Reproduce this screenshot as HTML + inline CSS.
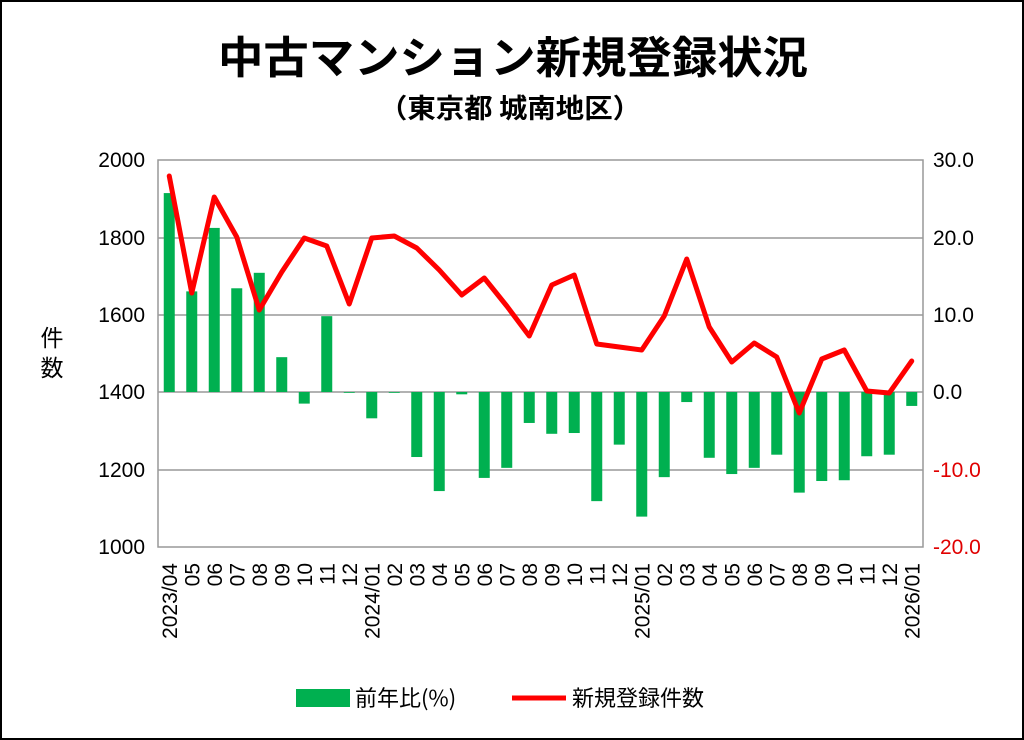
<!DOCTYPE html>
<html><head><meta charset="utf-8"><style>
html,body{margin:0;padding:0;background:#fff}
svg{display:block}
text{font-family:"Liberation Sans","Noto Sans CJK JP",sans-serif}
</style></head><body>
<svg width="1024" height="740" viewBox="0 0 1024 740" xmlns="http://www.w3.org/2000/svg">
<rect x="1" y="1" width="1022" height="738" fill="#fff" stroke="#000" stroke-width="2"/>
<text x="513" y="73" text-anchor="middle" font-size="44" font-weight="bold" textLength="590" lengthAdjust="spacingAndGlyphs" style="font-family:'Noto Sans CJK JP',sans-serif">中古マンション新規登録状況</text>
<text x="510" y="118" text-anchor="middle" font-size="27" font-weight="bold" textLength="262" lengthAdjust="spacingAndGlyphs" style="font-family:'Noto Sans CJK JP',sans-serif">（東京都 城南地区）</text>
<g stroke="#999" stroke-width="1.5">
<line x1="158" y1="238" x2="923" y2="238"/>
<line x1="158" y1="315" x2="923" y2="315"/>
<line x1="158" y1="392" x2="923" y2="392"/>
<line x1="158" y1="470" x2="923" y2="470"/>
<rect x="158" y="160" width="765" height="387" fill="none"/>
</g>
<g font-size="21" text-anchor="end" fill="#000">
<text x="145" y="167">2000</text><text x="145" y="245">1800</text><text x="145" y="322">1600</text><text x="145" y="399">1400</text><text x="145" y="477">1200</text><text x="145" y="554">1000</text>
</g>
<g font-size="21" text-anchor="start">
<text x="933" y="167">30.0</text><text x="933" y="245">20.0</text><text x="933" y="322">10.0</text><text x="933" y="399">0.0</text><text x="933" y="477" fill="#e00000">-10.0</text><text x="933" y="554" fill="#e00000">-20.0</text>
</g>
<text x="52" y="346" font-size="23" text-anchor="middle" style="font-family:'Noto Sans CJK JP',sans-serif">件</text>
<text x="52" y="376" font-size="23" text-anchor="middle" style="font-family:'Noto Sans CJK JP',sans-serif">数</text>
<g id="bars" fill="#00b050"></g>
<polyline id="line" fill="none" stroke="#f00" stroke-width="5" stroke-linejoin="round" stroke-linecap="round" points=""/>
<g id="xl" font-size="21"></g>
<rect x="296" y="689" width="54" height="18" fill="#00b050"/>
<text x="355" y="706" font-size="22" style="font-family:'Noto Sans CJK JP',sans-serif">前年比(%)</text>
<line x1="512" y1="698" x2="566" y2="698" stroke="#f00" stroke-width="5"/>
<text x="572" y="706" font-size="22" style="font-family:'Noto Sans CJK JP',sans-serif">新規登録件数</text>
</svg>
<script>
const pct=[25.7,13,21.2,13.4,15.4,4.5,-1.5,9.8,-0.1,-3.4,-0.1,-8.4,-12.8,-0.3,-11.1,-9.8,-4,-5.4,-5.3,-14.1,-6.8,-16.1,-11,-1.3,-8.5,-10.6,-9.8,-8.1,-13,-11.5,-11.4,-8.3,-8.1,-1.8];
const ly=[176,293,197,237,310,272,238,246,304,238,236,248,270,295,278,306,336,285,275,344,347,350,316,259,327,362,343,357,413,359,350,391,393,361];
const labels=["2023/04","05","06","07","08","09","10","11","12","2024/01","02","03","04","05","06","07","08","09","10","11","12","2025/01","02","03","04","05","06","07","08","09","10","11","12","2026/01"];
const ns="http://www.w3.org/2000/svg";
const bars=document.getElementById('bars'),xl=document.getElementById('xl');
let pts=[];
for(let i=0;i<34;i++){
 const cx=158+22.5*(i+0.5);
 const top=392-pct[i]*7.74;
 const r=document.createElementNS(ns,'rect');
 r.setAttribute('x',cx-5.5);r.setAttribute('width',11);
 r.setAttribute('y',Math.min(top,392));r.setAttribute('height',Math.max(Math.abs(392-top),0.8));
 bars.appendChild(r);
 pts.push(cx+','+ly[i]);
 const t=document.createElementNS(ns,'text');
 t.setAttribute('transform','translate('+(cx+7.5)+',563) rotate(-90)');
 t.setAttribute('text-anchor','end');
 t.textContent=labels[i];
 xl.appendChild(t);
}
document.getElementById('line').setAttribute('points',pts.join(' '));
</script>
</body></html>
